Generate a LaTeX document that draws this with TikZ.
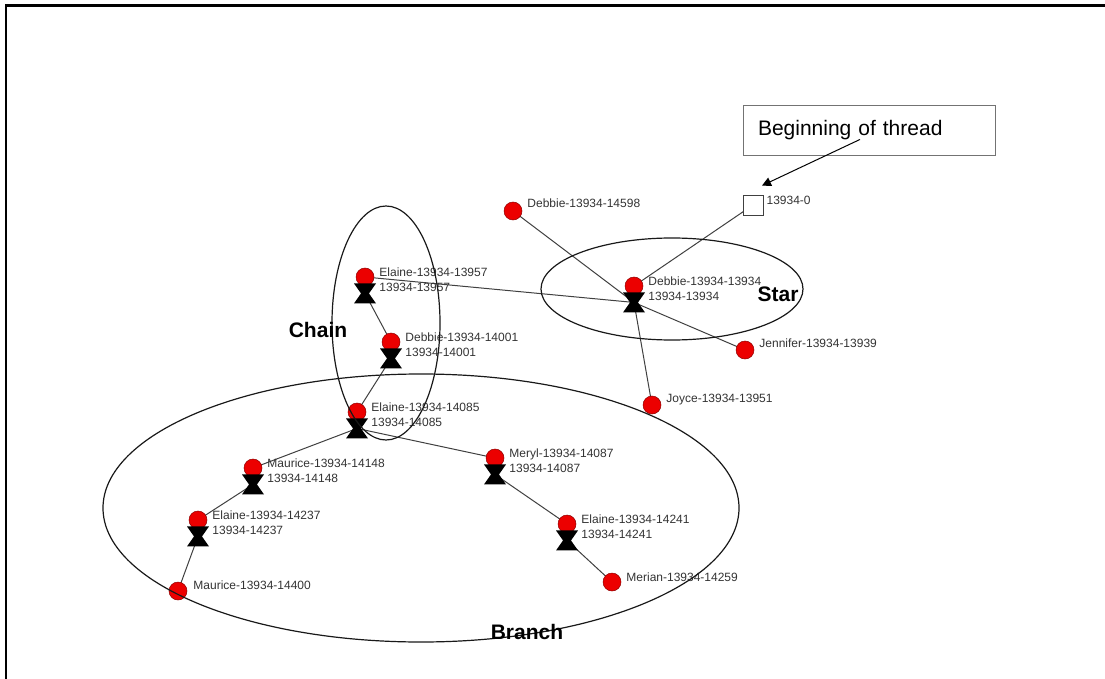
\documentclass[tikz,border=0pt]{standalone}
\usepackage{fontspec}
\setmainfont{Liberation Sans}
\usetikzlibrary{arrows.meta, positioning, backgrounds}
\definecolor{ballred}{RGB}{236,0,0}
\tikzset{
  % Icon styles
  ball/.style={circle, inner sep=0pt, minimum size=18pt, fill=ballred, draw=ballred!60!black, line width=0.5pt},
  glass/.style={rectangle, inner sep=0pt, minimum width=22pt, minimum height=20pt,
    path picture={\fill[black] (path picture bounding box.north west) -- (path picture bounding box.north east)
      -- ([xshift=-7pt]path picture bounding box.east) -- (path picture bounding box.south east)
      -- (path picture bounding box.south west) -- ([xshift=7pt]path picture bounding box.west) -- cycle;}},
  root/.style={rectangle, draw=black!75, fill=white, minimum size=20pt, inner sep=0pt, line width=0.8pt},
  % Text styles
  tag/.style={font=\fontsize{12}{15}\selectfont, text=black!80, inner sep=0pt, align=left},
  tagbig/.style={font=\fontsize{21}{21}\selectfont\bfseries, inner sep=0pt},
  threadbox/.style={rectangle, draw=black!55, line width=0.9pt, minimum width=252pt, minimum height=50pt,
    text width=222pt, inner xsep=15pt, align=left, font=\fontsize{21}{24}\selectfont},
  % Line styles
  link/.style={draw=black!75, line width=1pt},
  group/.style={draw=black!90, line width=1.2pt},
  pointer/.style={-{Triangle[length=9pt,width=9pt]}, line width=1pt},
}
\begin{document}
\begin{tikzpicture}[x=1pt, y=-1pt]
    \useasboundingbox (0,0) rectangle (1105,679);
    % Frame
    \draw[line width=2.8pt] (6,679) -- (6,5.3) -- (1105,5.3);

    % Root of thread
    \node[root] (root) at (753,205) {};
    \node[tag, right=3pt of root, yshift=5pt] (roott) {13934-0};
    \node[threadbox] (thread) at (869,130) {Beginning of thread};

    % Star
    \node[ball] (d13934) at (634,286) {};
    \node[glass, below=-3pt of d13934] (d13934g) {};
    \node[tag, right=5pt of d13934, yshift=-3pt] (d13934t) {Debbie-13934-13934\\13934-13934};
    \node[ball] (d14598) at (513,211) {};
    \node[tag, right=5pt of d14598, yshift=8pt] (d14598t) {Debbie-13934-14598};
    \node[ball] (j13939) at (745,350) {};
    \node[tag, right=5pt of j13939, yshift=7pt] (j13939t) {Jennifer-13934-13939};
    \node[ball] (j13951) at (652,405) {};
    \node[tag, right=5pt of j13951, yshift=5pt] (j13951t) {Joyce-13934-13951};

    % Chain
    \node[ball] (e13957) at (365,277) {};
    \node[glass, below=-3pt of e13957] (e13957g) {};
    \node[tag, right=5pt of e13957, yshift=-3pt] (e13957t) {Elaine-13934-13957\\13934-13957};
    \node[ball] (d14001) at (391,342) {};
    \node[glass, below=-3pt of d14001] (d14001g) {};
    \node[tag, right=5pt of d14001, yshift=-3pt] (d14001t) {Debbie-13934-14001\\13934-14001};
    \node[ball] (e14085) at (357,412) {};
    \node[glass, below=-3pt of e14085] (e14085g) {};
    \node[tag, right=5pt of e14085, yshift=-3pt] (e14085t) {Elaine-13934-14085\\13934-14085};

    % Branch
    \node[ball] (m14148) at (253,468) {};
    \node[glass, below=-3pt of m14148] (m14148g) {};
    \node[tag, right=5pt of m14148, yshift=-3pt] (m14148t) {Maurice-13934-14148\\13934-14148};
    \node[ball] (e14237) at (198,520) {};
    \node[glass, below=-3pt of e14237] (e14237g) {};
    \node[tag, right=5pt of e14237, yshift=-3pt] (e14237t) {Elaine-13934-14237\\13934-14237};
    \node[ball] (m14400) at (178,591) {};
    \node[tag, right=6pt of m14400, yshift=6pt] (m14400t) {Maurice-13934-14400};
    \node[ball] (y14087) at (495,458) {};
    \node[glass, below=-3pt of y14087] (y14087g) {};
    \node[tag, right=5pt of y14087, yshift=-3pt] (y14087t) {Meryl-13934-14087\\13934-14087};
    \node[ball] (e14241) at (567,524) {};
    \node[glass, below=-3pt of e14241] (e14241g) {};
    \node[tag, right=5pt of e14241, yshift=-3pt] (e14241t) {Elaine-13934-14241\\13934-14241};
    \node[ball] (r14259) at (612,582) {};
    \node[tag, right=5pt of r14259, yshift=5pt] (r14259t) {Merian-13934-14259};

    % Links between messages
    \begin{scope}[on background layer]
      \draw[link] (root.center) -- (d13934.center);
      \draw[link] (d13934g.center) -- (d14598.center);
      \draw[link] (d13934g.center) -- (j13939.center);
      \draw[link] (d13934g.center) -- (j13951.center);
      \draw[link] (d13934g.center) -- (e13957.center);
      \draw[link] (e13957g.center) -- (d14001.center);
      \draw[link] (d14001g.center) -- (e14085.center);
      \draw[link] (e14085g.center) -- (m14148.center);
      \draw[link] (e14085g.center) -- (y14087.center);
      \draw[link] (m14148g.center) -- (e14237.center);
      \draw[link] (e14237g.center) -- (m14400.center);
      \draw[link] (y14087g.center) -- (e14241.center);
      \draw[link] (e14241g.center) -- (r14259.center);
    \end{scope}

    % Arrow to the root
    \coordinate (tip) at ([xshift=9pt, yshift=9pt]root.north);
    \draw[pointer] ([xshift=-9pt, yshift=16pt]thread.south) -- (tip);

    % Groups
    \draw[group] (386,323) ellipse [x radius=54pt, y radius=117pt];
    \draw[group] (672,289) ellipse [x radius=131pt, y radius=51pt];
    \draw[group] (421,508) ellipse [x radius=318pt, y radius=134pt];
    \node[tagbig] (chain) at (318,330) {Chain};
    \node[tagbig] (star) at (778,294) {Star};
    \node[tagbig] (branch) at (527,632) {Branch};
\end{tikzpicture}
\end{document}
